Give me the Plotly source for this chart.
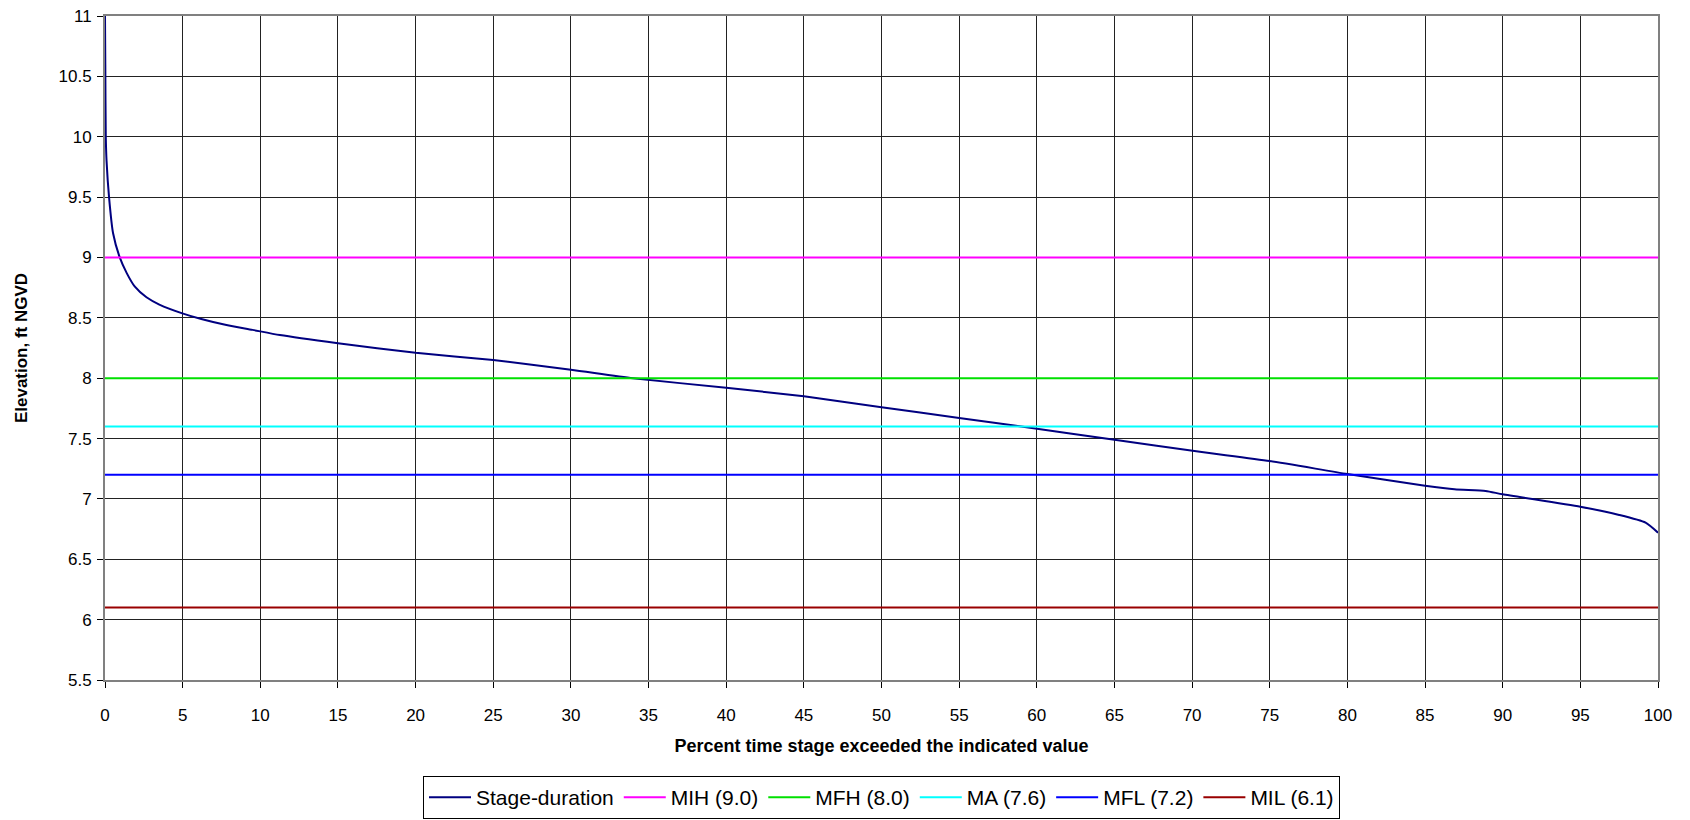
import plotly.graph_objects as go

# Stage-duration curve (percent exceeded vs elevation)
pct = [0, 0.02, 0.05, 0.1, 0.26, 0.52, 0.95, 1.4, 1.91, 2.67, 3.5, 5.03, 6.2, 7.82, 9.5,
       11.26, 15, 20, 25, 30, 34, 40, 45, 50, 55, 59, 65, 70.5, 75, 80, 85, 86.9, 88.9,
       90, 95, 97.5, 99.2, 100]
elev = [11.0, 10.6, 10.0, 9.8, 9.5, 9.2, 9.0, 8.87, 8.76, 8.67, 8.61, 8.535, 8.49, 8.44, 8.40,
        8.357, 8.29, 8.21, 8.15, 8.07, 8.0, 7.92, 7.85, 7.76, 7.67, 7.6, 7.49, 7.39, 7.314,
        7.206, 7.109, 7.079, 7.066, 7.038, 6.935, 6.867, 6.803, 6.72]

# Reference levels
ref_names = ["MIH (9.0)", "MFH (8.0)", "MA (7.6)", "MFL (7.2)", "MIL (6.1)"]
ref_values = [9.0, 8.0, 7.6, 7.2, 6.1]
ref_colors = ["#FF00FF", "#00E000", "#00FFFF", "#0000FF", "#990000"]
x_range = [0, 100]

x_ticks = list(range(0, 101, 5))
y_ticks = [5.5, 6, 6.5, 7, 7.5, 8, 8.5, 9, 9.5, 10, 10.5, 11]

fig = go.Figure()
fig.add_trace(go.Scatter(x=pct, y=elev, mode="lines", name="Stage-duration",
                         line=dict(color="#000080", width=2, shape="spline", smoothing=0.6)))
for n, v, c in zip(ref_names, ref_values, ref_colors):
    fig.add_trace(go.Scatter(x=x_range, y=[v, v], mode="lines", name=n,
                             line=dict(color=c, width=2)))

font = "Liberation Sans, Arial, sans-serif"
fig.update_layout(
    width=1690, height=820,
    margin=dict(l=105, r=32, t=16, b=140, autoexpand=False),
    paper_bgcolor="white", plot_bgcolor="white",
    font=dict(family=font, size=17, color="black"),
    showlegend=True,
    legend=dict(orientation="h", x=0.5, xanchor="center", y=-0.2093, yanchor="bottom",
                bordercolor="black", borderwidth=1, font=dict(size=21, family=font),
                traceorder="normal", itemwidth=42),
)
fig.update_xaxes(range=[0, 100], tickvals=x_ticks, ticks="outside", ticklen=6, tickcolor="black",
                 tickfont=dict(size=17),
                 showgrid=True, gridcolor="#222222", gridwidth=1,
                 showline=True, linecolor="#808080", linewidth=2, mirror=True,
                 zeroline=False, ticklabelstandoff=13, automargin=False,
                 title=dict(text="<b>Percent time stage exceeded the indicated value</b>",
                            font=dict(size=18), standoff=15))
fig.update_yaxes(range=[5.5, 11], tickvals=y_ticks, ticktext=[f"{v:g}" for v in y_ticks],
                 ticks="outside", ticklen=6, tickcolor="black",
                 tickfont=dict(size=17),
                 showgrid=True, gridcolor="#222222", gridwidth=1,
                 showline=True, linecolor="#808080", linewidth=2, mirror=True,
                 zeroline=False, ticklabelstandoff=2, automargin=False,
                 title=dict(text="<b>Elevation, ft NGVD</b>", font=dict(size=17), standoff=27))

fig.write_html("out.html", config={"displayModeBar": False},
               post_script="document.body.style.margin='0';")
